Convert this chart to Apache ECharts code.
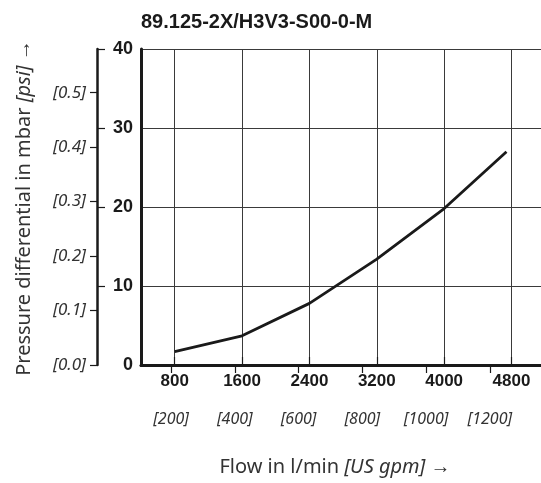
<!DOCTYPE html>
<html><head><meta charset="utf-8">
<script src="https://cdn.jsdelivr.net/npm/echarts@6/dist/echarts.min.js"></script>
<style>html,body{margin:0;padding:0;background:#fff}#c{width:541px;height:483px}</style>
</head><body><div id="c"></div>
<script>
const chartTitle = '89.125-2X/H3V3-S00-0-M';
const flowLpm = [800, 1600, 2400, 3200, 4000, 4740];
const dpMbar = [1.7, 3.7, 7.8, 13.4, 19.8, 27.0];
const lpmTicks = [800, 1600, 2400, 3200, 4000, 4800];
const gpmTicks = [200, 400, 600, 800, 1000, 1200];
const mbarInnerTicks = [10, 20, 30, 40];
const psiTicks = [0, 0.1, 0.2, 0.3, 0.4, 0.5];
const LPM_PER_GPM = 3.78541;
const MBAR_PER_PSI = 68.9476;
const xMin = 400, xMax = 5150, yMin = 0, yMax = 40;

const numFont = '"Liberation Sans", Arial, sans-serif';
const txtFont = '"Noto Sans", "Liberation Sans", sans-serif';
const ink = '#1a1a1a';

const chart = echarts.init(document.getElementById('c'), null, {renderer: 'canvas'});
chart.setOption({
  animation: false,
  backgroundColor: '#fff',
  title: {
    text: chartTitle, left: 136, top: 7,
    textStyle: {fontFamily: numFont, fontWeight: 'bold', fontSize: 20, color: ink}
  },
  grid: {left: 141, top: 49, right: 0, bottom: 118, containLabel: false},
  xAxis: [
    {
      type: 'value', min: xMin, max: xMax, position: 'bottom',
      axisLine: {show: true, lineStyle: {color: ink, width: 3}},
      axisTick: {show: false, customValues: lpmTicks},
      axisLabel: {customValues: lpmTicks, formatter: v => String(v), fontFamily: numFont, fontWeight: 'bold', fontSize: 17, color: ink, margin: 8},
      splitLine: {show: true, lineStyle: {color: '#3a3a3a', width: 1}}
    },
    {
      type: 'value', min: xMin, max: xMax, position: 'bottom', offset: 35,
      axisLine: {show: true, lineStyle: {color: ink, width: 2.5}},
      axisTick: {show: true, inside: true, length: 8, customValues: lpmTicks, lineStyle: {color: ink, width: 1.2}},
      axisLabel: {show: false},
      splitLine: {show: false}
    },
    {
      type: 'value', min: xMin / LPM_PER_GPM, max: xMax / LPM_PER_GPM, position: 'bottom', offset: 35,
      axisLine: {show: false},
      axisTick: {show: true, inside: false, length: 8, customValues: gpmTicks, lineStyle: {color: ink, width: 1.2}},
      axisLabel: {customValues: gpmTicks, formatter: v => '[' + v + ']', fontFamily: txtFont, fontStyle: 'italic', fontSize: 16, color: '#333', margin: 11},
      splitLine: {show: false}
    }
  ],
  yAxis: [
    {
      type: 'value', min: yMin, max: yMax, interval: 10, position: 'left',
      axisLine: {show: true, lineStyle: {color: ink, width: 3}},
      axisTick: {show: false},
      axisLabel: {fontFamily: numFont, fontWeight: 'bold', fontSize: 18, color: ink, margin: 8},
      splitLine: {show: true, lineStyle: {color: '#3a3a3a', width: 1}}
    },
    {
      type: 'value', min: yMin / MBAR_PER_PSI, max: yMax / MBAR_PER_PSI, position: 'left', offset: 44,
      axisLine: {show: true, lineStyle: {color: ink, width: 2.5}},
      axisTick: {show: true, inside: false, length: 7, customValues: psiTicks, lineStyle: {color: ink, width: 1.2}},
      axisLabel: {customValues: psiTicks, formatter: v => '[' + v.toFixed(1) + ']', fontFamily: txtFont, fontStyle: 'italic', fontSize: 17, color: '#333', margin: 11},
      splitLine: {show: false}
    },
    {
      type: 'value', min: yMin, max: yMax, position: 'left', offset: 44,
      axisLine: {show: false},
      axisTick: {show: true, inside: true, length: 8, customValues: mbarInnerTicks, lineStyle: {color: ink, width: 1.2}},
      axisLabel: {show: false},
      splitLine: {show: false}
    }
  ],
  graphic: [
    {
      type: 'text', x: 24, y: 208, rotation: Math.PI / 2,
      style: {
        text: 'Pressure differential in mbar {i|[psi]} →',
        fontFamily: txtFont, fontSize: 20, fill: '#333',
        align: 'center', verticalAlign: 'middle',
        rich: {i: {fontFamily: txtFont, fontSize: 20, fontStyle: 'italic', fill: '#333'}}
      }
    },
    {
      type: 'text', x: 335, y: 467,
      style: {
        text: 'Flow in l/min {i|[US gpm]} →',
        fontFamily: txtFont, fontSize: 20, fill: '#333',
        align: 'center', verticalAlign: 'middle',
        rich: {i: {fontFamily: txtFont, fontSize: 20, fontStyle: 'italic', fill: '#333'}}
      }
    }
  ],
  series: [{
    type: 'line', xAxisIndex: 0, yAxisIndex: 0,
    data: flowLpm.map((f, i) => [f, dpMbar[i]]),
    showSymbol: false, smooth: false,
    lineStyle: {color: ink, width: 2.8}
  }]
});
</script></body></html>
